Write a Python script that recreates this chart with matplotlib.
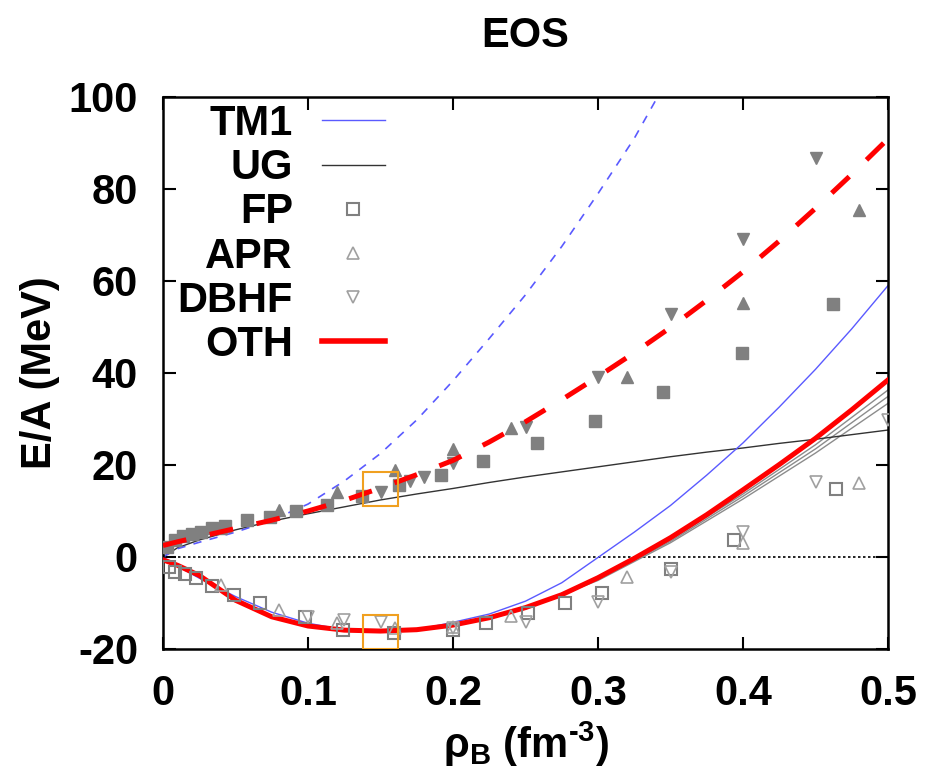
import matplotlib
matplotlib.use("Agg")
import matplotlib.pyplot as plt
from matplotlib.patches import Rectangle

plt.rcParams['font.family'] = ['Liberation Sans', 'DejaVu Sans']
plt.rcParams['font.weight'] = 'bold'
plt.rcParams['axes.unicode_minus'] = False
plt.rcParams['mathtext.fontset'] = 'custom'
plt.rcParams['mathtext.rm'] = 'Liberation Sans:bold'
plt.rcParams['mathtext.bf'] = 'Liberation Sans:bold'

# curves
rho = [0.0, 0.01, 0.025, 0.05, 0.075, 0.1, 0.125, 0.15, 0.175, 0.2, 0.225, 0.25,
       0.275, 0.3, 0.325, 0.35, 0.375, 0.4, 0.425, 0.45, 0.475, 0.5]
tm1_snm = [0.0, -2.0, -4.6, -8.6, -12.0, -14.4, -15.8, -16.3, -15.8, -14.2, -12.4, -9.6,
           -5.6, -0.1, 5.4, 11.2, 17.8, 24.8, 32.6, 40.8, 49.6, 59.0]
tm1_pnm = [0.0, 1.8, 3.2, 5.4, 8.0, 11.5, 16.5, 22.5, 29.8, 38.3, 47.5, 57.0,
           67.5, 79.0, 91.0, 105.0, None, None, None, None, None, None]
ug_pnm = [0.0, 2.0, 3.7, 5.9, 7.8, 9.4, 10.9, 12.4, 13.7, 14.9, 16.2, 17.4,
          18.5, 19.6, 20.7, 21.8, 22.8, 23.7, 24.7, 25.6, 26.6, 27.6]
oth_snm = [-0.6, -1.8, -4.0, -9.4, -13.0, -15.0, -15.9, -16.1, -15.8, -14.8, -13.2, -11.0,
           -8.2, -4.5, -0.3, 4.2, 9.2, 14.6, 20.1, 25.8, 32.0, 38.5]
oth_pnm = [2.5, 3.3, 4.4, 6.2, 8.0, 10.0, 12.3, 15.0, 17.9, 21.0, 25.0, 29.4,
           34.2, 39.2, 44.4, 49.9, 55.8, 62.0, 68.7, 75.8, 83.2, 90.9]
# thin grey variants next to OTH (symmetric matter)
rho_var = [0.2, 0.25, 0.3, 0.35, 0.4, 0.45, 0.5]
var1 = [-14.8, -11.1, -4.8, 3.7, 13.7, 24.4, 36.3]
var2 = [-14.8, -11.2, -4.9, 3.4, 13.2, 23.5, 34.9]
var3 = [-14.8, -11.3, -5.1, 3.1, 12.6, 22.6, 33.4]

# data points
fp_pnm_rho = [0.003, 0.008, 0.014, 0.02, 0.026, 0.034, 0.043, 0.058, 0.074, 0.092, 0.113,
              0.137, 0.163, 0.192, 0.221, 0.258, 0.298, 0.345, 0.399, 0.462]
fp_pnm_e = [2.2, 3.7, 4.6, 5.1, 5.5, 6.2, 6.8, 8.0, 8.8, 9.9, 11.3,
            13.3, 15.6, 17.8, 20.9, 24.7, 29.6, 35.9, 44.3, 55.0]
apr_pnm_rho = [0.04, 0.08, 0.12, 0.16, 0.2, 0.24, 0.32, 0.4, 0.48]
apr_pnm_e = [6.4, 10.2, 14.2, 18.9, 23.4, 28.0, 39.1, 55.3, 75.4]
dbhf_pnm_rho = [0.15, 0.17, 0.18, 0.2, 0.25, 0.3, 0.35, 0.4, 0.45]
dbhf_pnm_e = [14.2, 16.5, 17.5, 20.4, 28.3, 39.1, 52.8, 69.1, 86.7]

fp_snm_rho = [0.004, 0.008, 0.015, 0.023, 0.034, 0.049, 0.067, 0.098, 0.124, 0.159, 0.2,
              0.223, 0.252, 0.277, 0.303, 0.35, 0.394, 0.464]
fp_snm_e = [-2.1, -3.2, -3.6, -4.6, -6.4, -8.3, -10.1, -13.0, -15.9, -16.6, -15.9,
            -14.3, -12.2, -10.1, -7.8, -2.5, 3.7, 14.7]
apr_snm_rho = [0.04, 0.08, 0.12, 0.16, 0.2, 0.24, 0.32, 0.4, 0.48]
apr_snm_e = [-6.0, -11.5, -14.3, -15.5, -15.3, -12.9, -4.4, 3.0, 16.0]
dbhf_snm_rho = [0.1, 0.125, 0.15, 0.2, 0.25, 0.3, 0.35, 0.4, 0.45, 0.5]
dbhf_snm_e = [-13.0, -13.7, -14.1, -15.5, -14.1, -9.7, -3.2, 5.5, 16.2, 29.8]

# saturation boxes (rho range, energy ranges)
box_rho = [0.138, 0.162]
box_pnm = [11.0, 18.5]
box_snm = [-20.0, -12.6]

xticks = [0, 0.1, 0.2, 0.3, 0.4, 0.5]
xtick_labels = ['0', '0.1', '0.2', '0.3', '0.4', '0.5']
yticks = [-20, 0, 20, 40, 60, 80, 100]

fig = plt.figure(figsize=(9.27, 7.73), dpi=100)
ax = fig.add_axes([163 / 927, 1 - 649 / 773, 725 / 927, 552 / 773])

grey = '#808080'
blue = '#5a5aff'

ax.axhline(0, color='black', lw=1.2, ls=(0, (1.5, 1.5)), zorder=1)

for v in (var1, var2, var3):
    ax.plot(rho_var, v, color='#8c8c8c', lw=1.0, zorder=2)

ax.plot(rho, ug_pnm, color='#333333', lw=1.0, zorder=2)
ax.plot(rho, tm1_pnm, color=blue, lw=1.2, ls=(0, (5, 5)), zorder=2)

ax.plot(fp_pnm_rho, fp_pnm_e, 's', color=grey, ms=9, mec=grey, zorder=3)
ax.plot(apr_pnm_rho, apr_pnm_e, '^', color=grey, ms=9, mec=grey, zorder=3)
ax.plot(dbhf_pnm_rho, dbhf_pnm_e, 'v', color=grey, ms=9, mec=grey, zorder=3)

ax.plot(rho, oth_pnm, color='red', lw=3.6, ls=(0, (4.8, 4.8)), zorder=4)

ax.plot(rho, tm1_snm, color=blue, lw=1.0, zorder=2, label='TM1')
ax.plot([], [], color='#333333', lw=1.0, label='UG')
ax.plot(rho, oth_snm, color='red', lw=3.6, zorder=4)

ax.plot(fp_snm_rho, fp_snm_e, 's', mfc='none', mec=grey, mew=1.5, ms=9, zorder=5, label='FP')
ax.plot(apr_snm_rho, apr_snm_e, '^', mfc='none', mec='#a0a0a0', mew=1.2, ms=8, zorder=5, label='APR')
ax.plot(dbhf_snm_rho, dbhf_snm_e, 'v', mfc='none', mec='#a0a0a0', mew=1.2, ms=8, zorder=5, label='DBHF')
ax.plot([], [], color='red', lw=4, label='OTH')

for ylo, yhi in (box_pnm, box_snm):
    ax.add_patch(Rectangle((box_rho[0], ylo), box_rho[1] - box_rho[0], yhi - ylo,
                           fill=False, ec='#f0a020', lw=1.5, zorder=6))

ax.set_xlim(0, 0.5)
ax.set_ylim(-20, 100)
ax.set_xticks(xticks)
ax.set_xticklabels(xtick_labels)
ax.set_yticks(yticks)
ax.tick_params(direction='in', length=9, width=1.5, top=True, right=True,
               labelsize=30, pad=18)
for s in ax.spines.values():
    s.set_linewidth(1.8)

ax.set_xlabel('ρ$_{\\mathbf{B}}$ (fm$^{\\text{-3}}$)', fontsize=30, fontweight='bold', labelpad=4)
ax.set_ylabel('E/A (MeV)', fontsize=30, fontweight='bold', labelpad=6)
ax.set_title('EOS', fontsize=30, fontweight='bold', pad=36)

leg = ax.legend(loc='upper right', bbox_to_anchor=(385 / 927, 1 - 104 / 773),
                bbox_transform=fig.transFigure, frameon=False, markerfirst=False,
                numpoints=1, borderpad=0, borderaxespad=0, handlelength=1.52,
                handletextpad=0.69, labelspacing=0.1,
                prop={'weight': 'bold', 'size': 30})

fig.savefig('out.png', dpi=100)
